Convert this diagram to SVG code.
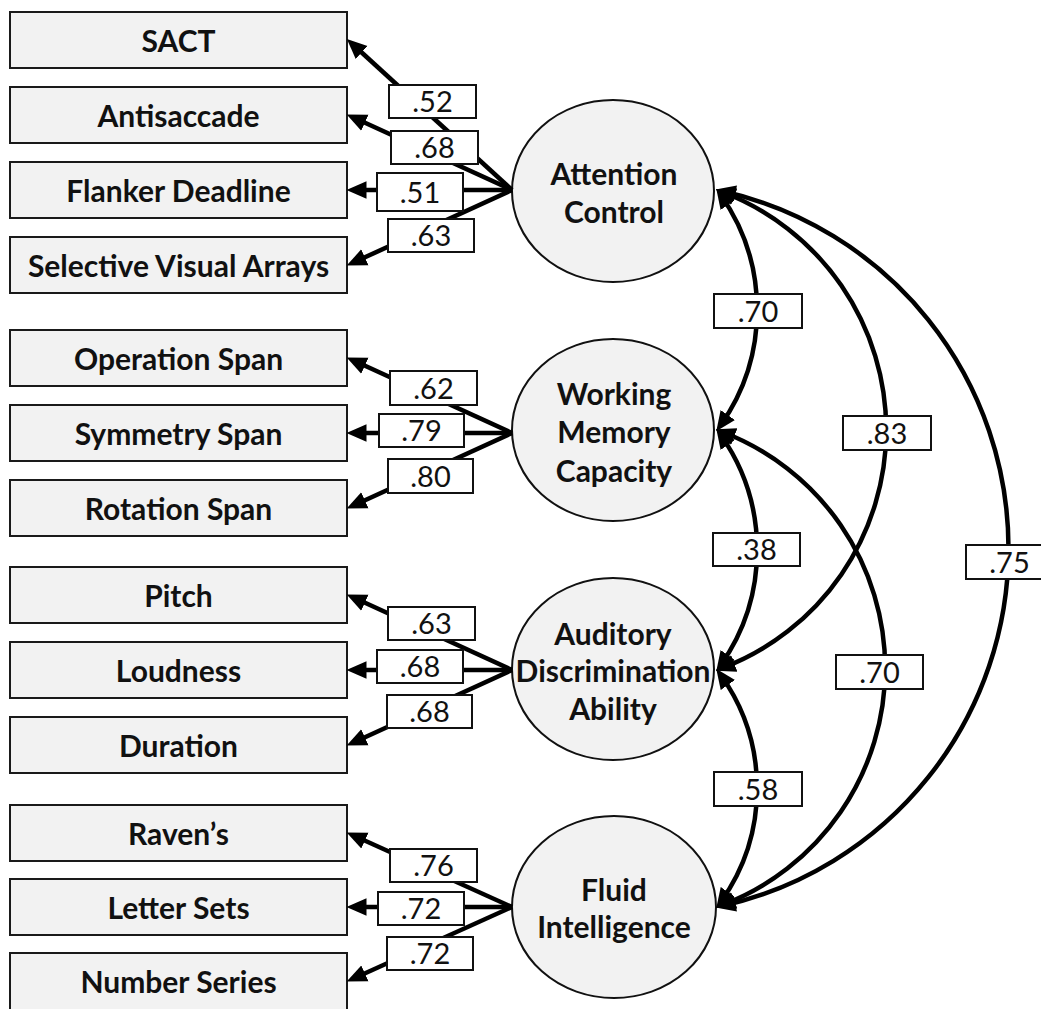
<svg xmlns="http://www.w3.org/2000/svg" width="1041" height="1009" viewBox="0 0 1041 1009">
<style>
.box{fill:#f2f2f2;stroke:#1a1a1a;stroke-width:2}
.lat{fill:#f2f2f2;stroke:#111;stroke-width:2}
.nt{font-family:Lato,"Liberation Sans",sans-serif;font-weight:bold;font-size:30px;fill:#111;text-anchor:middle}
.lb{fill:#fff;stroke:#111;stroke-width:2}
.lt{font-family:Lato,"Liberation Sans",sans-serif;font-size:29px;fill:#111;text-anchor:middle}
.ld{fill:none;stroke:#000;stroke-width:4.5;marker-end:url(#ah)}
.cv{fill:none;stroke:#000;stroke-width:4.5;marker-start:url(#ah);marker-end:url(#ah)}
</style>
<defs>
<marker id="ah" markerUnits="userSpaceOnUse" markerWidth="20" markerHeight="20" viewBox="0 0 16 14" refX="10" refY="7" orient="auto-start-reverse">
<path d="M0,0 L16,7 L0,14 z" fill="#000"/>
</marker>
</defs>
<rect width="1041" height="1009" fill="#fff"/>

<g id="n-sact"><rect class="box" x="10" y="12" width="337" height="56"/><text class="nt" x="178.5" y="52">SACT</text></g>
<g id="n-antisaccade"><rect class="box" x="10" y="87" width="337" height="56"/><text class="nt" x="178.5" y="127">Antisaccade</text></g>
<g id="n-flanker"><rect class="box" x="10" y="162" width="337" height="56"/><text class="nt" x="178.5" y="202">Flanker Deadline</text></g>
<g id="n-selective"><rect class="box" x="10" y="237" width="337" height="56"/><text class="nt" x="178.5" y="277">Selective Visual Arrays</text></g>

<g id="n-operation"><rect class="box" x="10" y="330" width="337" height="56"/><text class="nt" x="178.5" y="370">Operation Span</text></g>
<g id="n-symmetry"><rect class="box" x="10" y="405" width="337" height="56"/><text class="nt" x="178.5" y="445">Symmetry Span</text></g>
<g id="n-rotation"><rect class="box" x="10" y="480" width="337" height="56"/><text class="nt" x="178.5" y="520">Rotation Span</text></g>

<g id="n-pitch"><rect class="box" x="10" y="567" width="337" height="56"/><text class="nt" x="178.5" y="607">Pitch</text></g>
<g id="n-loudness"><rect class="box" x="10" y="642" width="337" height="56"/><text class="nt" x="178.5" y="682">Loudness</text></g>
<g id="n-duration"><rect class="box" x="10" y="717" width="337" height="56"/><text class="nt" x="178.5" y="757">Duration</text></g>

<g id="n-ravens"><rect class="box" x="10" y="805" width="337" height="56"/><text class="nt" x="178.5" y="845">Raven’s</text></g>
<g id="n-letter"><rect class="box" x="10" y="879" width="337" height="56"/><text class="nt" x="178.5" y="919">Letter Sets</text></g>
<g id="n-number"><rect class="box" x="10" y="953" width="337" height="58"/><text class="nt" x="178.5" y="993">Number Series</text></g>

<g id="n-attention"><ellipse class="lat" cx="613" cy="191" rx="101" ry="91"/><text class="nt" x="614" y="185">Attention</text><text class="nt" x="614" y="223">Control</text></g>
<g id="n-wmc"><ellipse class="lat" cx="613" cy="430" rx="101" ry="91"/><text class="nt" x="614" y="405">Working</text><text class="nt" x="614" y="443">Memory</text><text class="nt" x="614" y="482">Capacity</text></g>
<g id="n-auditory"><ellipse class="lat" cx="613" cy="669" rx="101" ry="91"/><text class="nt" x="613" y="645">Auditory</text><text class="nt" x="613" y="682">Discrimination</text><text class="nt" x="613" y="720">Ability</text></g>
<g id="n-fluid"><ellipse class="lat" cx="614" cy="907" rx="102" ry="91"/><text class="nt" x="614" y="901">Fluid</text><text class="nt" x="614" y="938">Intelligence</text></g>

<g id="connectors">
<path class="ld" d="M512,190 L352.4,44"/>
<path class="ld" d="M512,190 L353.5,117.5"/>
<path class="ld" d="M512,190 L354,190"/>
<path class="ld" d="M512,190 L353.5,262.5"/>
<path class="ld" d="M512,433 L353.5,360.5"/>
<path class="ld" d="M512,433 L354,433"/>
<path class="ld" d="M512,433 L353.5,505.5"/>
<path class="ld" d="M512,670 L353.5,597.5"/>
<path class="ld" d="M512,670 L354,670"/>
<path class="ld" d="M512,670 L353.5,742.5"/>
<path class="ld" d="M512,907 L353.5,835.5"/>
<path class="ld" d="M512,907 L354,907"/>
<path class="ld" d="M512,907 L353.5,978.5"/>

<path class="cv" d="M720.6,194.8 A200,200 0 0 1 720.6,425.2"/>
<path class="cv" d="M722.6,192 A254.9,254.9 0 0 1 722.6,668"/>
<path class="cv" d="M722.9,191.2 A366.3,366.3 0 0 1 722.9,905.8"/>
<path class="cv" d="M720.6,434.8 A200,200 0 0 1 720.6,665.2"/>
<path class="cv" d="M722.6,432 A253.3,253.3 0 0 1 722.6,905"/>
<path class="cv" d="M720.6,674.8 A195.5,195.5 0 0 1 720.6,902.2"/>

<g id="labels">
<rect class="lb" x="389" y="85" width="87" height="33"/><text class="lt" x="432.5" y="112">.52</text>
<rect class="lb" x="391" y="131" width="87" height="33"/><text class="lt" x="434.5" y="158">.68</text>
<rect class="lb" x="377" y="173" width="86" height="38"/><text class="lt" x="420" y="203">.51</text>
<rect class="lb" x="388" y="219" width="86" height="33"/><text class="lt" x="431" y="246">.63</text>
<rect class="lb" x="390" y="371" width="87" height="34"/><text class="lt" x="433.5" y="399">.62</text>
<rect class="lb" x="379" y="414" width="85" height="33"/><text class="lt" x="421.5" y="441">.79</text>
<rect class="lb" x="388" y="459" width="85" height="34"/><text class="lt" x="430.5" y="487">.80</text>
<rect class="lb" x="388" y="607" width="87" height="33"/><text class="lt" x="431.5" y="634">.63</text>
<rect class="lb" x="377" y="650" width="86" height="33"/><text class="lt" x="420" y="677">.68</text>
<rect class="lb" x="387" y="695" width="85" height="33"/><text class="lt" x="429.5" y="722">.68</text>
<rect class="lb" x="390" y="849" width="87" height="33"/><text class="lt" x="433.5" y="876">.76</text>
<rect class="lb" x="378" y="892" width="86" height="33"/><text class="lt" x="421" y="919">.72</text>
<rect class="lb" x="387" y="937" width="86" height="33"/><text class="lt" x="430" y="964">.72</text>

<rect class="lb" x="714" y="294" width="88" height="34"/><text class="lt" x="758" y="322">.70</text>
<rect class="lb" x="843" y="416" width="88" height="34"/><text class="lt" x="887" y="444">.83</text>
<rect class="lb" x="966" y="545" width="87" height="34"/><text class="lt" x="1009.5" y="573">.75</text>
<rect class="lb" x="713" y="533" width="87" height="33"/><text class="lt" x="756.5" y="560">.38</text>
<rect class="lb" x="836" y="655" width="87" height="34"/><text class="lt" x="879.5" y="683">.70</text>
<rect class="lb" x="714" y="772" width="88" height="34"/><text class="lt" x="758" y="800">.58</text>
</g>
</g>
</svg>
